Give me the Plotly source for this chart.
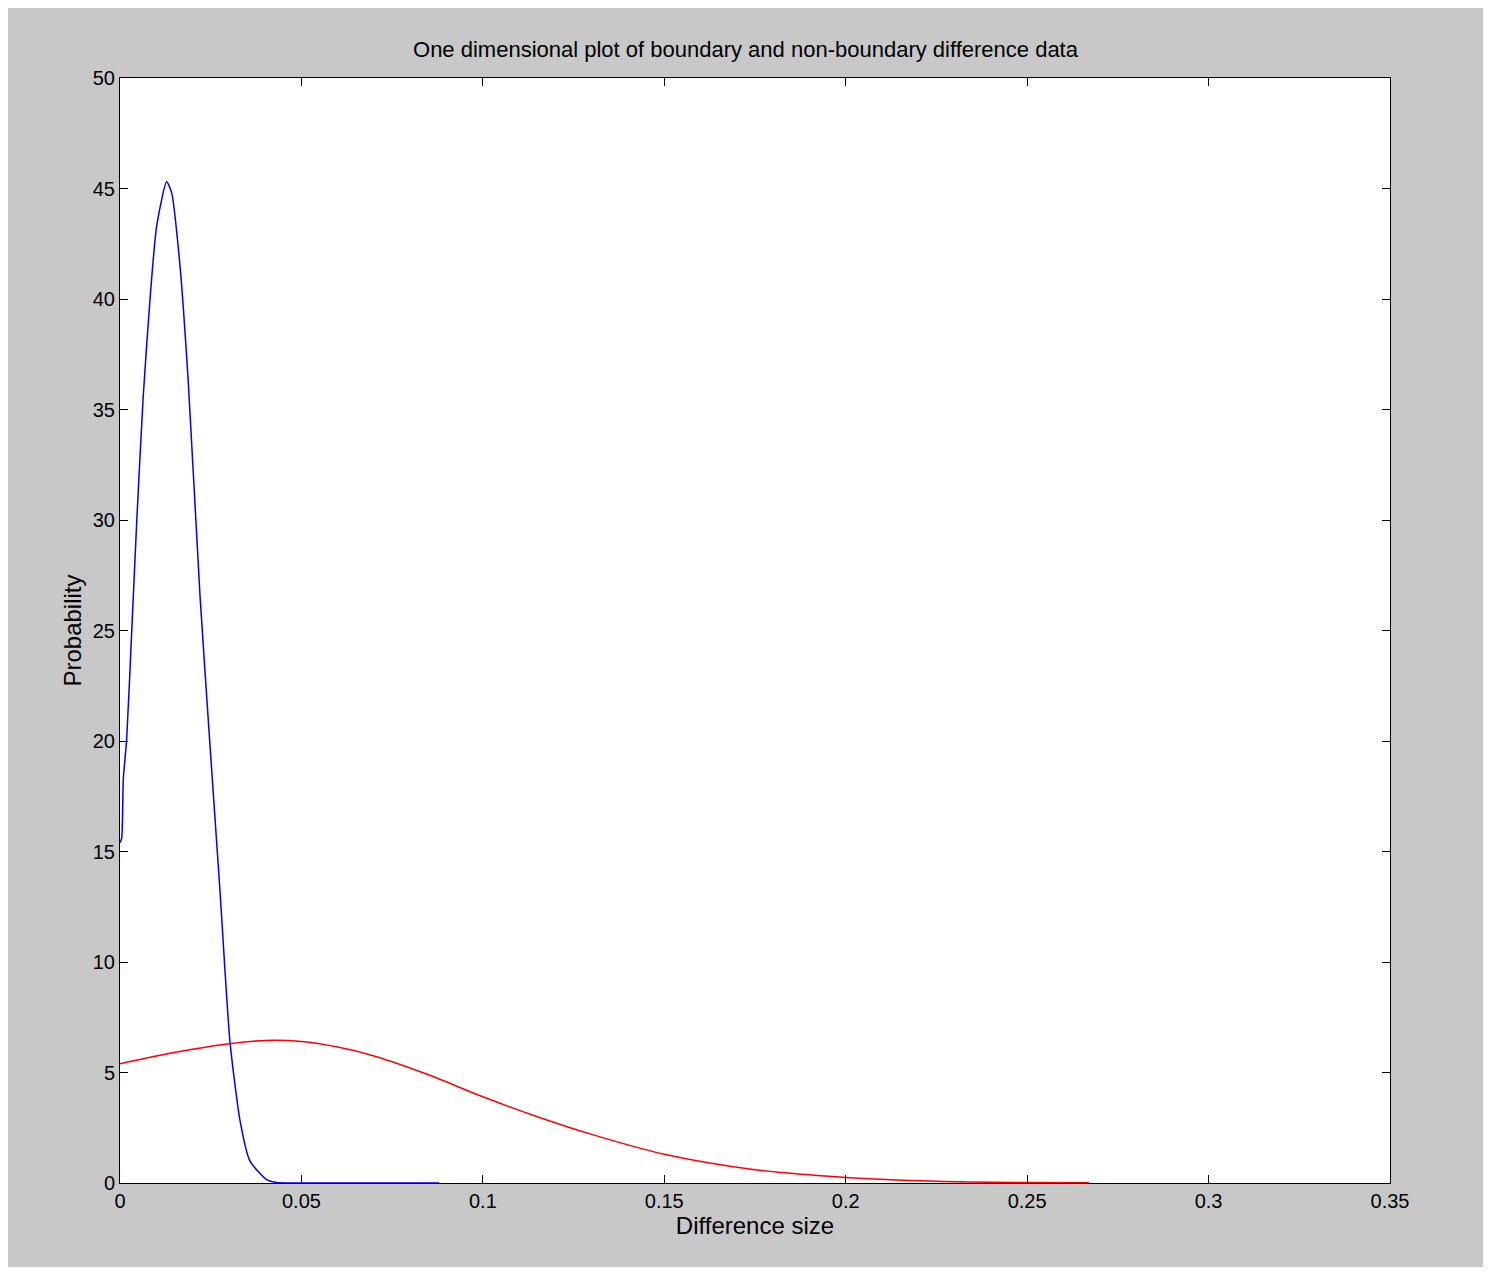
import plotly.graph_objects as go

blue_x = [0.0, 0.00046, 0.00092, 0.00184, 0.00321, 0.0046, 0.0064, 0.00827, 0.0101, 0.01286, 0.01424,
          0.01653, 0.01883, 0.02204, 0.0248, 0.02756, 0.0303, 0.0331, 0.0358, 0.0404, 0.0432, 0.06, 0.088]
blue_y = [15.4, 15.6, 18.3, 20.1, 24.9, 29.9, 35.6, 40.0, 43.3, 45.3, 44.8,
          41.5, 36.2, 26.6, 19.8, 13.2, 6.4, 2.8, 1.0, 0.15, 0.02, 0.0, 0.0]
red_x = [0.0, 0.01, 0.02, 0.03, 0.04, 0.05, 0.06, 0.07, 0.085, 0.1, 0.115, 0.13, 0.15, 0.175, 0.2, 0.225, 0.25, 0.267]
red_y = [5.4, 5.75, 6.05, 6.3, 6.45, 6.4, 6.15, 5.75, 4.9, 3.9, 3.0, 2.2, 1.3, 0.6, 0.25, 0.08, 0.02, 0.01]

fig = go.Figure()
fig.add_trace(go.Scatter(x=blue_x, y=blue_y, mode="lines", line=dict(color="#0000ff", width=1.5, shape="spline", smoothing=0.6)))
fig.add_trace(go.Scatter(x=red_x, y=red_y, mode="lines", line=dict(color="#ff0000", width=1.5, shape="spline", smoothing=0.8)))

axis = dict(showgrid=False, zeroline=False, showline=True, linecolor="black", linewidth=1, mirror="ticks",
            ticks="inside", ticklen=8, tickcolor="black", tickfont=dict(size=20, color="black"))
fig.update_layout(
    width=1475, height=1259, showlegend=False,
    paper_bgcolor="#c8c8c8", plot_bgcolor="white",
    margin=dict(l=112, r=93, t=70, b=84),
    font=dict(family="Liberation Sans, Arial", size=20, color="black"),
    title=dict(text="One dimensional plot of boundary and non-boundary difference data", x=0.5, xanchor="center", y=0.967, yanchor="middle", font=dict(size=22)),
    xaxis=dict(axis, range=[0, 0.35], dtick=0.05, title=dict(text="Difference size", standoff=2)),
    yaxis=dict(axis, range=[0, 50], dtick=5, title=dict(text="Probability", standoff=4)),
)
fig.write_html("out.html")
